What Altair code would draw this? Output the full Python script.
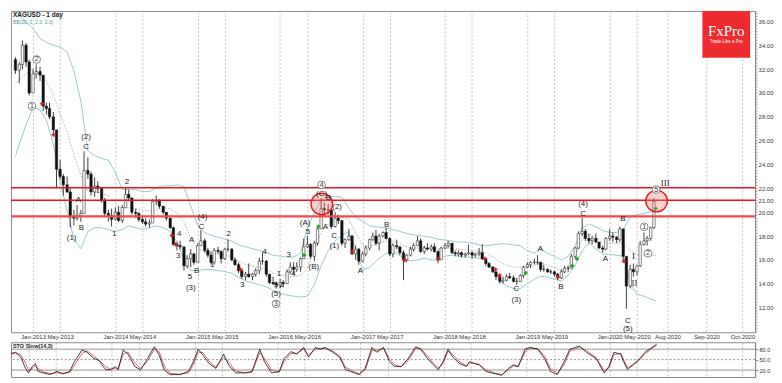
import altair as alt
import pandas as pd

# ---------------- data ----------------
FIRST_OPEN = 32.8
HIGH = [
    33.0, 32.6, 34.4, 34.2, 32.8,
    32.0, 32.4, 32.2, 31.2, 29.2, 29.2, 28.4, 26.0, 24.4, 23.2, 23.0, 22.0, 20.2, 20.6, 20.2, 25.1, 24.6, 23.4, 22.9, 22.6, 22.1, 21.2, 20.2, 20.3,
    20.4, 20.5, 20.6, 22.0, 21.9, 21.2, 20.3, 20.0, 19.7, 19.5, 19.4, 21.1, 21.4, 21.1, 20.5, 20.0, 19.5, 18.8, 17.5, 17.6, 16.6, 16.4, 16.9, 16.6,
    17.4, 18.5, 17.8, 17.0, 16.7, 17.0, 17.1, 16.8, 17.0, 17.7, 17.0, 16.2, 15.8, 15.2, 15.0, 15.7, 14.9, 15.3, 16.2, 16.6, 16.0, 14.8, 14.6, 14.2,
    14.4, 14.3, 15.2, 15.8, 15.8, 15.8, 16.2, 17.8, 18.0, 17.4, 17.6, 18.7, 21.2, 20.8, 20.7, 20.2, 20.0, 19.8, 19.3, 17.8, 18.6, 18.1, 17.2, 17.0,
    16.7, 17.2, 17.8, 18.3, 18.5, 18.2, 18.4, 18.7, 17.9, 17.4, 17.7, 17.1, 16.8, 16.5, 17.1, 17.4, 18.0, 17.8, 17.2, 17.4, 17.3, 17.4, 16.8, 17.1,
    17.4, 17.6, 17.3, 16.8, 16.8, 16.7, 16.6, 17.3, 16.7, 16.6, 17.0, 17.3, 16.2, 15.8, 15.5, 15.0, 14.8, 14.6, 14.8, 14.9, 14.7, 14.5, 14.8, 15.5,
    15.8, 15.9, 16.1, 16.4, 15.8, 15.6, 15.3, 15.2, 15.1, 14.9, 15.2, 15.5, 15.5, 16.5, 17.1, 18.4, 19.5, 18.6, 18.2, 18.0, 18.2, 17.5, 17.2, 17.9,
    18.6, 18.3, 18.0, 18.8, 18.6, 16.2, 15.6, 15.7, 15.6, 17.6, 18.3, 18.0, 18.8, 21.2,
]
LOW = [
    31.6, 30.8, 32.0, 32.2, 29.8,
    30.1, 31.2, 31.0, 28.5, 28.2, 27.8, 26.5, 22.0, 22.8, 21.4, 21.6, 18.7, 18.9, 19.3, 19.2, 20.0, 22.8, 21.4, 21.3, 21.6, 20.8, 19.6, 19.2, 18.8,
    19.3, 19.2, 19.1, 20.5, 20.9, 19.8, 19.5, 19.2, 19.0, 18.8, 18.7, 19.2, 20.6, 20.3, 19.8, 19.3, 18.6, 17.2, 16.8, 16.9, 15.1, 15.3, 15.4, 15.6,
    15.8, 17.2, 16.6, 16.2, 15.6, 15.6, 16.5, 15.7, 16.0, 16.7, 15.9, 15.5, 14.9, 14.4, 14.3, 14.5, 14.3, 14.6, 14.8, 15.6, 14.6, 14.0, 13.9, 13.6,
    13.6, 13.7, 14.0, 14.8, 14.8, 15.0, 15.0, 16.1, 17.0, 16.1, 15.9, 17.2, 18.6, 19.6, 19.8, 18.6, 18.7, 19.0, 17.2, 17.0, 17.6, 16.4, 16.0, 15.6,
    15.8, 16.3, 16.8, 17.6, 17.2, 16.8, 17.9, 17.7, 16.3, 16.2, 16.9, 16.4, 14.3, 15.8, 16.3, 16.7, 17.2, 16.6, 16.5, 16.8, 16.7, 16.6, 15.7, 16.0,
    16.9, 17.0, 16.5, 16.3, 16.3, 16.2, 16.2, 16.4, 16.1, 16.2, 16.3, 16.0, 15.5, 15.3, 14.9, 14.3, 14.0, 14.0, 14.2, 14.4, 14.1, 13.9, 14.2, 14.5,
    15.3, 15.3, 15.6, 15.6, 15.0, 15.0, 14.9, 14.8, 14.6, 14.3, 14.4, 14.9, 15.0, 15.3, 16.1, 16.9, 18.0, 17.6, 17.4, 17.3, 17.4, 16.9, 16.6, 16.8,
    17.6, 17.5, 17.4, 17.5, 16.0, 11.9, 13.6, 14.6, 14.7, 15.4, 17.2, 17.2, 17.6, 18.6,
]
CLOSE = [
    31.9, 32.4, 34.0, 32.6, 30.0,
    31.6, 31.8, 31.5, 28.9, 28.7, 28.0, 26.9, 23.6, 23.0, 22.3, 21.7, 19.6, 19.5, 19.7, 19.9, 23.5, 23.2, 21.7, 22.2, 22.0, 21.0, 19.9, 19.7, 19.4,
    20.0, 19.3, 20.4, 21.5, 21.2, 20.0, 19.9, 19.4, 19.2, 19.0, 19.1, 20.9, 21.0, 20.5, 20.0, 19.5, 18.7, 17.3, 17.2, 17.1, 15.5, 16.1, 16.5, 15.8,
    17.2, 17.6, 16.8, 16.4, 15.8, 16.8, 16.7, 16.1, 16.9, 16.9, 16.0, 15.6, 15.1, 14.6, 14.8, 14.6, 14.8, 15.1, 15.9, 15.9, 14.8, 14.1, 14.0, 13.9,
    14.1, 14.0, 15.0, 15.4, 15.2, 15.4, 16.1, 17.1, 17.3, 16.3, 17.4, 18.6, 20.3, 20.2, 20.2, 18.8, 19.5, 19.3, 17.4, 17.7, 18.0, 16.5, 16.9, 15.9,
    16.5, 17.0, 17.7, 18.0, 17.4, 18.0, 18.3, 17.8, 16.5, 17.2, 17.1, 16.6, 16.0, 16.4, 16.9, 17.2, 17.6, 16.7, 17.0, 16.9, 17.1, 16.7, 16.0, 17.0,
    17.2, 17.4, 16.6, 16.5, 16.6, 16.4, 16.5, 16.6, 16.4, 16.5, 16.6, 16.1, 15.7, 15.4, 15.0, 14.6, 14.2, 14.3, 14.6, 14.5, 14.2, 14.2, 14.7, 15.4,
    15.6, 15.8, 15.8, 15.8, 15.2, 15.2, 15.0, 15.0, 14.8, 14.5, 15.0, 15.3, 15.3, 16.3, 17.0, 18.2, 18.4, 17.8, 17.6, 17.8, 17.5, 17.0, 16.9, 17.8,
    18.0, 17.9, 17.7, 18.6, 16.3, 13.8, 15.2, 15.0, 15.5, 17.3, 17.6, 17.8, 18.7, 20.9,
]

BB_UPPER = [
    37.0, 36.48, 35.92,
    35.44, 34.57, 34.25, 34.01, 33.85, 33.45, 31.86, 29.30, 25.16, 24.76, 24.52, 24.36,
    23.32, 21.89, 21.89, 21.89, 21.73, 21.73, 22.05, 22.21, 22.21, 22.29, 22.13, 20.53,
    18.86, 18.30, 18.06, 17.90, 17.74, 17.58, 17.26, 17.10, 16.94, 16.78, 16.62, 16.39,
    16.31, 16.23, 16.23, 16.55, 18.70, 19.97, 21.01, 21.25, 21.33, 21.25, 20.37, 19.58,
    19.26, 18.86, 18.78, 18.70, 18.62, 18.46, 18.30, 18.14, 18.06, 17.98, 17.90, 17.74,
    17.66, 17.58, 17.50, 17.50, 17.42, 17.26, 17.18, 17.26, 17.34, 17.34, 17.26, 17.18,
    16.78, 16.55, 16.94, 16.55, 16.31, 15.99, 16.31, 17.18, 18.70, 19.02, 18.78, 18.46,
    18.30, 18.30, 18.54, 19.58, 19.81, 19.89, 20.05, 20.13,
]
BB_LOWER = [
    24.68, 25.72, 27.31,
    28.83, 28.59, 27.71, 25.72, 22.53, 20.13, 17.74, 16.94, 18.38, 18.70, 18.70, 18.54,
    18.38, 18.54, 18.86, 18.70, 18.54, 18.70, 18.86, 18.70, 18.38, 17.50, 15.99, 15.11,
    15.11, 15.19, 15.19, 15.11, 15.03, 14.87, 14.55, 14.23, 14.07, 13.91, 13.75, 13.44,
    13.20, 13.04, 12.96, 12.88, 12.96, 13.91, 15.51, 16.78, 17.58, 18.06, 18.38, 16.94,
    15.19, 15.35, 15.91, 16.39, 16.70, 16.55, 16.15, 15.91, 15.99, 16.15, 15.99, 15.99,
    16.31, 16.39, 16.31, 16.23, 16.23, 16.15, 15.99, 15.19, 14.31, 13.83, 13.59, 13.59,
    13.99, 14.39, 14.63, 14.55, 14.39, 14.23, 14.71, 15.51, 16.78, 17.42, 16.94, 16.47,
    16.47, 16.39, 16.31, 13.99, 13.12, 12.96, 12.72, 12.56,
]
BB_MID = [
    30.8, 31.1, 31.6,
    32.1, 31.6, 31.0, 29.8, 28.2, 26.8, 24.8, 23.1, 21.8, 21.7, 21.6, 21.4,
    20.8, 20.2, 20.4, 20.3, 20.2, 20.1, 20.2, 20.4, 20.3, 19.9, 19.2, 17.8,
    16.95, 16.7, 16.6, 16.5, 16.4, 16.3, 15.9, 15.6, 15.5, 15.35, 15.2, 14.9,
    14.75, 14.65, 14.6, 14.7, 15.3, 16.9, 18.3, 19.0, 19.4, 19.6, 19.4, 18.3,
    17.25, 17.1, 17.35, 17.5, 17.6, 17.5, 17.2, 17.0, 17.0, 17.0, 17.0, 16.9,
    17.0, 16.9, 16.9, 16.85, 16.8, 16.7, 16.6, 16.25, 15.8, 15.55, 15.4, 15.4,
    15.4, 15.5, 15.8, 15.55, 15.35, 15.1, 15.5, 16.35, 17.75, 18.2, 17.9, 17.5,
    17.4, 17.4, 17.4, 16.8, 16.45, 16.4, 16.4, 16.35,
]

STO_DATES = [
    "2012-10-15", "2012-11-05", "2012-11-27", "2012-12-18", "2012-12-31", "2013-01-17", "2013-01-30", "2013-02-12", "2013-03-06", "2013-04-05",
    "2013-05-05", "2013-05-31", "2013-06-30", "2013-07-21", "2013-08-24", "2013-09-15", "2013-10-15", "2013-11-05", "2013-12-06", "2013-12-27",
    "2014-01-17", "2014-01-30", "2014-02-21", "2014-03-14", "2014-04-13", "2014-05-09", "2014-06-08", "2014-07-08", "2014-07-30", "2014-08-20",
    "2014-09-15", "2014-10-28", "2014-12-05", "2014-12-27", "2015-01-17", "2015-02-08", "2015-03-06", "2015-04-05", "2015-05-09", "2015-05-31",
    "2015-06-30", "2015-08-12", "2015-09-11", "2015-10-15", "2015-11-05", "2015-12-06", "2016-01-09", "2016-01-30", "2016-02-29", "2016-03-26",
    "2016-04-25", "2016-05-17", "2016-06-16", "2016-07-07", "2016-07-29", "2016-09-01", "2016-10-01", "2016-10-27", "2016-12-05", "2016-12-26",
    "2017-01-21", "2017-02-20", "2017-03-13", "2017-04-12", "2017-05-08", "2017-05-30", "2017-06-29", "2017-07-29", "2017-09-01", "2017-09-22",
    "2017-10-23", "2017-11-17", "2017-12-09", "2017-12-30", "2018-01-21", "2018-02-11", "2018-03-13", "2018-04-12", "2018-04-25", "2018-05-17",
    "2018-06-07", "2018-07-07", "2018-08-19", "2018-09-14", "2018-10-14", "2018-11-04", "2018-11-26", "2018-12-26", "2019-01-16", "2019-02-20",
    "2019-03-22", "2019-04-17", "2019-05-17", "2019-06-16", "2019-07-11", "2019-08-23", "2019-09-22", "2019-11-04", "2019-12-09", "2019-12-30",
    "2020-01-21", "2020-02-20", "2020-03-04", "2020-03-21", "2020-04-11", "2020-05-07", "2020-06-06", "2020-07-06", "2020-07-27",
]
STO_K = [
    66, 71, 57, 25, 12, 30, 39, 16, 12, 7,
    16, 9, 16, 44, 78, 71, 53, 48, 21, 21,
    30, 21, 78, 66, 30, 21, 53, 87, 62, 21,
    7, 7, 16, 44, 80, 62, 39, 25, 66, 35,
    12, 12, 16, 80, 44, 12, 16, 53, 73, 66,
    85, 57, 85, 80, 85, 71, 57, 21, 12, 7,
    25, 85, 71, 85, 44, 30, 30, 53, 87, 80,
    53, 35, 21, 44, 80, 57, 39, 30, 44, 39,
    35, 16, 9, 5, 25, 35, 30, 80, 85, 80,
    53, 16, 7, 44, 80, 89, 71, 53, 12, 30,
    71, 66, 44, 21, 35, 48, 71, 85, 94,
]
STO_D = [
    70, 69, 64, 40, 20, 24, 33, 24, 15, 10,
    12, 11, 13, 33, 68, 75, 60, 50, 30, 22,
    26, 25, 66, 72, 40, 25, 45, 80, 72, 32,
    11, 8, 12, 35, 72, 70, 46, 28, 56, 44,
    18, 12, 14, 70, 54, 20, 14, 44, 68, 68,
    80, 64, 80, 82, 83, 75, 60, 28, 15, 9,
    20, 76, 76, 82, 52, 35, 30, 47, 82, 83,
    60, 40, 26, 38, 74, 64, 44, 33, 40, 40,
    36, 21, 11, 7, 20, 32, 31, 72, 83, 82,
    60, 24, 10, 36, 74, 86, 76, 56, 18, 26,
    64, 68, 50, 27, 32, 45, 66, 82, 91,
]

LEVELS = [22.05, 21.0, 19.65]
LEVEL_WIDTH = [1.5, 1.5, 2.4]
LEVEL_COLOR = ["#e8141b", "#e8141b", "#f04a4a"]

HILITE_DATES = ["2016-07-04", "2020-07-27"]
HILITE_PRICES = [20.69, 20.93]

RED_MARK_DATES = ["2013-02-10", "2013-04-02", "2014-09-08", "2014-09-25", "2015-07-10", "2016-11-16", "2017-07-06",
                  "2017-12-03", "2018-06-27", "2018-08-13", "2018-08-31", "2019-05-16", "2020-03-04"]
RED_MARK_PRICES = [29.1, 26.5, 18.05, 17.3, 15.2, 16.7, 16.0, 16.1, 16.1, 15.2, 14.7, 14.55, 15.9]
GREEN_MARK_DATES = ["2016-04-16", "2016-06-19", "2018-12-25", "2019-07-19", "2019-08-09", "2020-07-23"]
GREEN_MARK_PRICES = [16.4, 18.8, 14.9, 15.5, 16.1, 20.3]

WAVE_TEXT = ["(2)", "C", "A", "B", "(1)", "2", "1", "4", "3", "5", "(3)", "A", "B", "(4)", "C", "1", "2", "3", "4",
             "5", "2", "(5)", "1", "3", "4", "5", "(A)", "(B)", "A", "(C)", "B", "(2)", "C", "(1)", "A", "B",
             "C", "(3)", "A", "B", "C", "(4)", "A", "B", "C", "(5)"]
WAVE_DATES = ["2013-08-24", "2013-08-24", "2013-07-21", "2013-08-03", "2013-06-21", "2014-02-21", "2013-12-27",
              "2014-10-11", "2014-10-06", "2014-11-27", "2014-12-01", "2014-12-05", "2014-12-27", "2015-01-22",
              "2015-01-17", "2015-03-06", "2015-05-18", "2015-07-17", "2015-10-24", "2015-12-14", "2016-01-09",
              "2015-12-14", "2015-12-27", "2016-02-08", "2016-02-29", "2016-05-04", "2016-04-21", "2016-05-30",
              "2016-07-20", "2016-07-03", "2016-08-02", "2016-09-10", "2016-08-28", "2016-08-28", "2016-12-22",
              "2017-04-17", "2018-11-13", "2018-11-13", "2019-02-28", "2019-05-30", "2019-09-05", "2019-09-05",
              "2019-12-13", "2020-02-28", "2020-03-21", "2020-03-21"]
WAVE_PRICES = [26.27, 25.48, 21.01, 18.70, 17.82, 22.53, 18.14, 18.14, 16.31, 14.55, 13.67, 17.66, 15.11, 19.58,
               18.78, 15.59, 18.14, 13.91, 16.70, 13.91, 13.91, 13.12, 14.79, 16.39, 14.79, 18.38, 19.10, 15.43,
               18.78, 21.49, 21.17, 20.45, 17.98, 17.18, 15.11, 18.94, 13.52, 12.64, 16.94, 13.75, 19.89, 20.69,
               16.07, 19.42, 10.88, 10.17]

ROMAN_TEXT = ["I", "II", "III"]
ROMAN_DATES = ["2020-04-16", "2020-04-20", "2020-07-31"]
ROMAN_PRICES = [16.31, 14.07, 22.45]

CIRCLED_TEXT = ["1", "2", "3", "4", "1", "2", "5"]
CIRCLED_DATES = ["2012-12-27", "2013-01-17", "2015-12-14", "2016-07-03", "2020-06-02", "2020-06-19", "2020-07-25"]
CIRCLED_PRICES = [28.91, 32.81, 12.32, 22.29, 18.78, 16.55, 21.9]

TICK_MONTHS = [(y, m) for y in range(2013, 2021) for m in (1, 5)] + [(2020, 8), (2020, 9), (2020, 10)]
MAJOR_PRICES = [12, 14, 16, 18, 20, 21, 22, 24, 26, 28, 30, 32, 34, 36]
MINOR_STEP = 0.25

# time-axis breakpoints (the picture stretches the empty future part)
X_BREAK_DATES = ["2012-10-15", "2020-07-27", "2020-08-01", "2020-09-01", "2020-10-01", "2020-10-11"]


def ms(dates):
    return [int(v) for v in (pd.to_datetime(pd.Series(dates)).astype("int64") // 10**6)]


# ---------------- tables ----------------
candle_dates = pd.date_range("2012-10-15", "2020-07-15", freq="SMS")
assert len(candle_dates) == len(HIGH) == len(LOW) == len(CLOSE)
candles = pd.DataFrame({
    "t": ms(candle_dates.strftime("%Y-%m-%d")),
    "open": [FIRST_OPEN] + CLOSE[:-1],
    "high": HIGH, "low": LOW, "close": CLOSE,
})

band_dates = ["2012-10-15"] + list(pd.date_range("2012-11-01", "2020-07-01", freq="MS").strftime("%Y-%m-%d")) + ["2020-07-24"]
assert len(band_dates) == len(BB_UPPER) == len(BB_LOWER) == len(BB_MID)
bands = pd.DataFrame({"t": ms(band_dates), "upper": BB_UPPER, "lower": BB_LOWER, "mid": BB_MID})

assert len(STO_DATES) == len(STO_K) == len(STO_D)
sto = pd.DataFrame({"t": ms(STO_DATES), "k": STO_K, "d": STO_D})

levels = pd.DataFrame({"y": LEVELS, "w": LEVEL_WIDTH, "c": LEVEL_COLOR})
hilite = pd.DataFrame({"t": ms(HILITE_DATES), "price": HILITE_PRICES})
redm = pd.DataFrame({"t": ms(RED_MARK_DATES), "price": RED_MARK_PRICES})
greenm = pd.DataFrame({"t": ms(GREEN_MARK_DATES), "price": GREEN_MARK_PRICES})
waves = pd.DataFrame({"t": ms(WAVE_DATES), "price": WAVE_PRICES, "txt": WAVE_TEXT})
romans = pd.DataFrame({"t": ms(ROMAN_DATES), "price": ROMAN_PRICES, "txt": ROMAN_TEXT})
circled = pd.DataFrame({"t": ms(CIRCLED_DATES), "price": CIRCLED_PRICES, "txt": CIRCLED_TEXT})
one = pd.DataFrame({"a": [0]})

# ---------------- scales / axes ----------------
W = 748
H_MAIN = 323
H_STO = 35

XSCALE = alt.Scale(domain=ms(X_BREAK_DATES), range=[0, 649, 659.8, 699, 735.3, W], nice=False, zero=False)
tick_vals = ms([f"{y}-{m:02d}-01" for (y, m) in TICK_MONTHS])
XAXIS_MAIN = alt.Axis(values=tick_vals, labelExpr="utcFormat(datum.value, '%b-%Y')", grid=True,
                      gridDash=[2, 2], gridColor="#a8a8a8", gridWidth=0.7, ticks=False, domain=False,
                      labelFontSize=6, labelColor="#333", labelPadding=1, labelFont="Liberation Sans",
                      labelOverlap=False, labelFlush=False, title=None)
XAXIS_STO = alt.Axis(values=tick_vals, grid=True, gridDash=[2, 2], gridColor="#a8a8a8", gridWidth=0.7,
                     ticks=False, domain=False, labels=False, title=None)

YSCALE = alt.Scale(domain=[9.93, 36.88], nice=False, zero=False)
n_minor = int(round((36.75 - 10.0) / MINOR_STEP)) + 1
price_ticks = sorted(set([round(10.0 + MINOR_STEP * i, 2) for i in range(n_minor)] + MAJOR_PRICES))
major_test = " || ".join(f"abs(datum.value - {v}) < 0.001" for v in MAJOR_PRICES)
YAXIS = alt.Axis(orient="right", values=price_ticks,
                 labelExpr=f"({major_test}) ? format(datum.value, '.2f') : ''",
                 grid=False, tickSize=2, tickWidth=0.6, tickColor="#777", domainColor="#888",
                 labelFontSize=6, labelColor="#333", labelPadding=1, labelFont="Liberation Sans",
                 labelOverlap=False, labelFlush=False, title=None)


def X(axis=XAXIS_MAIN):
    return alt.X("t:Q", scale=XSCALE, axis=axis)


def Y(field):
    return alt.Y(f"{field}:Q", scale=YSCALE, axis=YAXIS)


BAND = "#8ec5c6"
base_b = alt.Chart(bands)
upper = base_b.mark_line(color=BAND, strokeWidth=0.9, clip=True).encode(x=X(), y=Y("upper"))
lower = base_b.mark_line(color=BAND, strokeWidth=0.9, clip=True).encode(x=X(), y=Y("lower"))
mid = base_b.mark_line(color="#a0a0a0", strokeWidth=0.8, strokeDash=[1.5, 1.5], clip=True).encode(x=X(), y=Y("mid"))

base_c = alt.Chart(candles)
wicks = base_c.mark_rule(color="#111", strokeWidth=0.8).encode(x=X(), y=Y("low"), y2="high:Q")
bodies = base_c.mark_bar(size=2.4, stroke="#111", strokeWidth=0.5).encode(
    x=X(), y=Y("open"), y2="close:Q",
    fill=alt.condition("datum.close >= datum.open", alt.value("#ffffff"), alt.value("#111111")))

red_marks = alt.Chart(redm).mark_point(shape="cross", filled=True, size=16, color="#d81e1e", opacity=1).encode(
    x=X(), y=Y("price"))
green_marks = alt.Chart(greenm).mark_point(shape="cross", filled=True, size=16, color="#19a319", opacity=1).encode(
    x=X(), y=Y("price"))

level_rules = alt.Chart(levels).mark_rule().encode(
    y=Y("y"), color=alt.Color("c:N", scale=None), strokeWidth=alt.StrokeWidth("w:Q", scale=None))

hl = alt.Chart(hilite).mark_point(shape="circle", size=470, filled=True, fill="#f27a7a", fillOpacity=0.35,
                                  stroke="#e31d1d", strokeWidth=1.4, opacity=1).encode(x=X(), y=Y("price"))

wave_text = alt.Chart(waves).mark_text(fontSize=8, color="#222", font="Liberation Sans",
                                       baseline="middle").encode(x=X(), y=Y("price"), text="txt:N")
circ_pts = alt.Chart(circled).mark_point(shape="circle", size=60, filled=True, fill="#ffffff",
                                         stroke="#666", strokeWidth=0.8, opacity=1).encode(x=X(), y=Y("price"))
circ_txt = alt.Chart(circled).mark_text(fontSize=7, color="#333", font="Liberation Sans",
                                        baseline="middle").encode(x=X(), y=Y("price"), text="txt:N")
roman_text = alt.Chart(romans).mark_text(fontSize=9, color="#222", font="Liberation Serif",
                                         baseline="middle").encode(x=X(), y=Y("price"), text="txt:N")

logo = alt.Chart(one).mark_rect(color="#ee2b2e").encode(
    x=alt.value(695), x2=alt.value(743), y=alt.value(0), y2=alt.value(47))
logo_t1 = alt.Chart(one).mark_text(text="FxPro", font="Liberation Serif", fontSize=15, color="white").encode(
    x=alt.value(719), y=alt.value(20))
logo_t2 = alt.Chart(one).mark_text(text="Trade Like a Pro", font="Liberation Sans", fontSize=4.5,
                                   color="white").encode(x=alt.value(719), y=alt.value(31))
title1 = alt.Chart(one).mark_text(text="XAGUSD    - 1 day", align="left", baseline="top", fontSize=6.5,
                                  fontWeight="bold", color="#222", font="Liberation Sans").encode(
    x=alt.value(2), y=alt.value(1))
title2 = alt.Chart(one).mark_text(text="BB(20, 0, 2.0, 2.0)", align="left", baseline="top", fontSize=5,
                                  color="#4a9c9c", font="Liberation Sans").encode(x=alt.value(2), y=alt.value(9))

main = alt.layer(
    upper, lower, mid, wicks, bodies, red_marks, green_marks, level_rules, hl,
    wave_text, circ_pts, circ_txt, roman_text, logo, logo_t1, logo_t2, title1, title2,
).properties(width=W, height=H_MAIN)

# ---------------- stochastic panel ----------------
SSCALE = alt.Scale(domain=[0, 100], nice=False, zero=False)
SAXIS = alt.Axis(orient="right", values=[20, 50, 80], format=".1f", grid=False, tickSize=3, tickColor="#888",
                 domainColor="#888", labelFontSize=5.5, labelColor="#333", labelPadding=1, title=None)
lvl_df = pd.DataFrame({"v": [80, 20]})
mid_df = pd.DataFrame({"v": [50]})
s_lines = alt.Chart(lvl_df).mark_rule(color="#777", strokeWidth=0.8).encode(
    y=alt.Y("v:Q", scale=SSCALE, axis=SAXIS))
s_mid = alt.Chart(mid_df).mark_rule(color="#777", strokeWidth=0.8, strokeDash=[2, 2]).encode(
    y=alt.Y("v:Q", scale=SSCALE, axis=SAXIS))
s_k = alt.Chart(sto).mark_line(color="#111", strokeWidth=0.8).encode(
    x=X(axis=XAXIS_STO), y=alt.Y("k:Q", scale=SSCALE, axis=SAXIS))
s_d = alt.Chart(sto).mark_line(color="#d24545", strokeWidth=0.8).encode(
    x=X(axis=XAXIS_STO), y=alt.Y("d:Q", scale=SSCALE, axis=SAXIS))
s_title = alt.Chart(one).mark_text(text="STO Slow(14,3)", align="left", baseline="top", fontSize=5.5,
                                   fontWeight="bold", color="#222", font="Liberation Sans").encode(
    x=alt.value(2), y=alt.value(2))
stoch = alt.layer(s_lines, s_mid, s_d, s_k, s_title).properties(width=W, height=H_STO)

chart = alt.vconcat(main, stoch, spacing=1).properties(
    padding={"left": 0, "right": 0, "top": 0, "bottom": 0}
).configure_view(stroke="#8a8a8a", strokeWidth=1)

chart.save("out.html", embed_options={"renderer": "svg", "actions": False})
